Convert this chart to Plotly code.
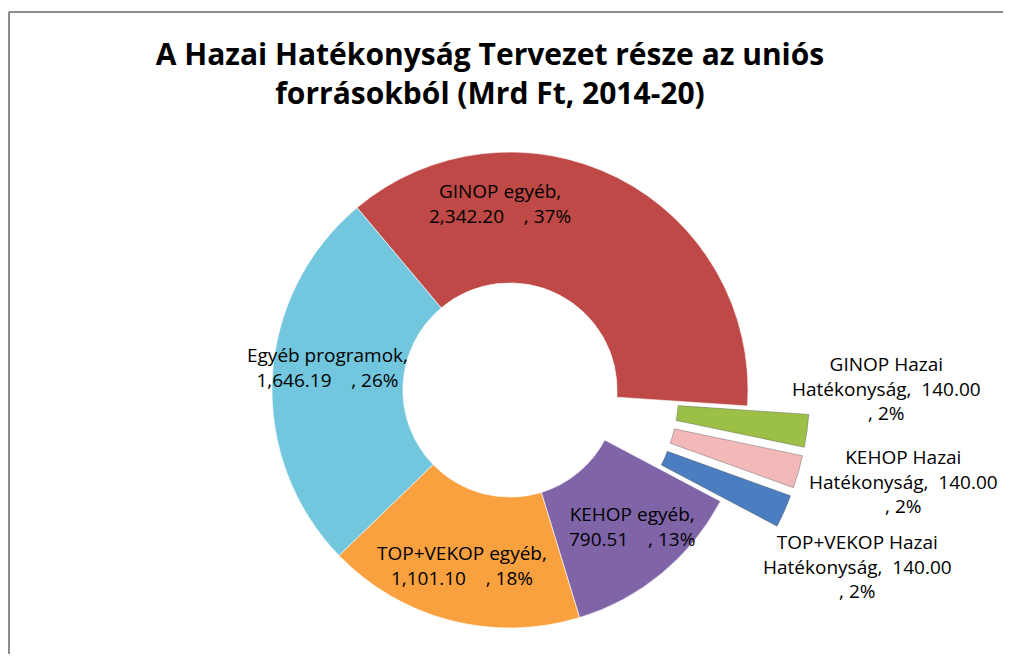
import math
import plotly.graph_objects as go

# ---------------- data ----------------
categories = ["GINOP egyéb", "GINOP Hazai Hatékonyság", "KEHOP Hazai Hatékonyság",
              "TOP+VEKOP Hazai Hatékonyság", "KEHOP egyéb", "TOP+VEKOP egyéb",
              "Egyéb programok"]
values = [2342.20, 140.00, 140.00, 140.00, 790.51, 1101.10, 1646.19]
pct_labels = ["37%", "2%", "2%", "2%", "13%", "18%", "26%"]

# ---------------- style / layout ----------------
colors = ["#BF4946", "#9CC046", "#F2B9B8", "#4A7EC0", "#8064A8", "#F9A03F", "#72C6DD"]
exploded = [False, True, True, True, False, False, False]
PULL = 0.26
ROT = -40
# the page body has an 8px margin, so the figure is sized to fit the 1011x662 window
W, H = 995, 646
CX, CY, R = 502, 382, 238          # pie centre / radius in px (figure coords)
HOLE = 0.45
FONT = "Open Sans, Calibri, sans-serif"
NB = "\u00a0"

# label anchors (px in figure coords, centre of the label block)
label_xy = [(492, 196), (878, 380), (895, 473), (849, 558), (624, 518), (454, 557), (319, 359)]


def dom(cx, cy):
    y0 = max(0.0, (H - cy - R) / H)
    y1 = min(1.0, (H - cy + R) / H)
    return dict(x=[(cx - R) / W, (cx + R) / W], y=[y0, y1])


fig = go.Figure()

# main ring (exploded slices left transparent here)
fig.add_trace(go.Pie(
    labels=categories, values=values, sort=False, direction="clockwise", rotation=ROT,
    hole=HOLE, textinfo="none", showlegend=False,
    marker=dict(colors=[("rgba(0,0,0,0)" if e else c) for c, e in zip(colors, exploded)],
                line=dict(color="rgba(255,255,255,0.6)",
                          width=[0 if e else 1 for e in exploded])),
    domain=dom(CX, CY),
    hoverinfo="label+value+percent",
))

# exploded slices: same pie, moved out along each slice's bisector
total = sum(values)
cum = 0.0
for i, v in enumerate(values):
    mid = ROT + 360.0 * (cum + v / 2) / total
    cum += v
    if not exploded[i]:
        continue
    a = math.radians(mid)
    dx, dy = PULL * R * math.sin(a), -PULL * R * math.cos(a)
    fig.add_trace(go.Pie(
        labels=categories, values=values, sort=False, direction="clockwise", rotation=ROT,
        hole=HOLE, textinfo="none", showlegend=False,
        marker=dict(colors=[(c if j == i else "rgba(0,0,0,0)") for j, c in enumerate(colors)],
                    line=dict(color="rgba(60,60,60,0.35)",
                              width=[1 if j == i else 0 for j in range(len(values))])),
        domain=dom(CX + dx, CY + dy),
        hoverinfo="label+value+percent",
    ))

# data labels
annotations = []
for i, (name, v, p) in enumerate(zip(categories, values, pct_labels)):
    if exploded[i]:
        parts = name.split(" ")
        first = " ".join(parts[:-1])
        txt = f"{first}<br>{parts[-1]},{NB}{NB}{v:,.2f}<br>, {p}"
    else:
        txt = f"{name},<br>{v:,.2f}{NB*4}, {p}"
    x, y = label_xy[i]
    annotations.append(dict(
        text=txt, x=x / W, y=1 - y / H, xref="paper", yref="paper",
        xanchor="center", yanchor="middle", align="center", showarrow=False,
        font=dict(family=FONT, size=19, color="#000000"),
    ))

fig.update_layout(
    width=W, height=H, autosize=False, showlegend=False,
    margin=dict(l=0, r=0, t=0, b=0, autoexpand=False),
    paper_bgcolor="white", plot_bgcolor="white",
    title=dict(
        text="A Hazai Hatékonyság Tervezet része az uniós<br>forrásokból (Mrd Ft, 2014-20)",
        x=482 / W, xanchor="center", y=1 - 57 / H, yanchor="top",
        font=dict(family=FONT, size=30, color="#000000", weight="bold"),
    ),
    annotations=annotations,
    shapes=[
        dict(type="line", xref="paper", yref="paper", x0=1 / W, x1=1.0,
             y0=1 - 4 / H, y1=1 - 4 / H, line=dict(color="#8C8C8C", width=2)),
        dict(type="line", xref="paper", yref="paper", x0=1 / W, x1=1 / W,
             y0=0, y1=1 - 4 / H, line=dict(color="#8C8C8C", width=2)),
    ],
)

fig.write_html("out.html", config={"displayModeBar": False})
